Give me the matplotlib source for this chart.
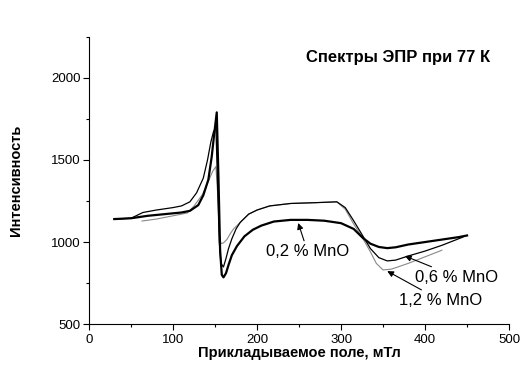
import matplotlib
matplotlib.use('Agg')
import matplotlib.pyplot as plt
from matplotlib.ticker import MultipleLocator

plt.rcParams['font.family'] = ['Liberation Sans', 'DejaVu Sans']

# 0,2 % MnO (thick line)
x_02 = [30, 50, 70, 90, 110, 120, 130, 136, 142, 146, 149, 152, 154, 156, 158, 160, 163, 166, 170, 176,
        185, 195, 205, 220, 240, 260, 280, 300, 315, 326, 335, 345, 355, 365, 380, 400, 420, 440, 450]
y_02 = [1140, 1145, 1160, 1170, 1180, 1190, 1225, 1285, 1380, 1520, 1660, 1790, 1400, 950, 800, 785, 810, 860, 920, 975,
        1035, 1075, 1100, 1125, 1135, 1135, 1130, 1115, 1080, 1025, 990, 970, 963, 968, 985, 1000, 1015, 1030, 1040]

# 0,6 % MnO (thin black)
x_06 = [30, 50, 64, 80, 100, 110, 120, 128, 136, 141, 145, 148, 151, 153, 155, 157, 160, 163, 166, 170, 175,
        180, 190, 200, 215, 240, 270, 295, 305, 315, 325, 335, 345, 355, 365, 380, 400, 420, 445]
y_06 = [1140, 1145, 1180, 1195, 1210, 1220, 1245, 1300, 1390, 1500, 1610, 1670, 1700, 1350, 1000, 870, 848, 900, 960, 1020, 1080,
        1120, 1170, 1195, 1220, 1235, 1240, 1245, 1210, 1130, 1045, 960, 905, 885, 890, 915, 945, 980, 1030]

# 1,2 % MnO (grey)
x_12 = [63, 80, 100, 117, 125, 135, 142, 147, 151, 153, 155, 157, 160, 164, 168, 172, 180, 190, 200, 215,
        240, 270, 295, 305, 315, 325, 335, 342, 350, 360, 380, 400, 420]
y_12 = [1128, 1140, 1160, 1177, 1220, 1290, 1370, 1430, 1460, 1300, 1050, 990, 995, 1015, 1050, 1080, 1120, 1170, 1195, 1220,
        1235, 1240, 1245, 1200, 1110, 1030, 940, 870, 830, 835, 870, 910, 950]

fig = plt.figure(figsize=(5.21, 3.65), dpi=100)
ax = fig.add_axes([0.171, 0.112, 0.806, 0.787])

ax.plot(x_12, y_12, color='#888888', linewidth=0.8)
ax.plot(x_06, y_06, color='black', linewidth=0.9)
ax.plot(x_02, y_02, color='black', linewidth=1.6)

ax.set_xlim(0, 500)
ax.set_ylim(500, 2250)
ax.xaxis.set_major_locator(MultipleLocator(100))
ax.xaxis.set_minor_locator(MultipleLocator(50))
ax.yaxis.set_major_locator(MultipleLocator(500))
ax.yaxis.set_minor_locator(MultipleLocator(250))
ax.spines['top'].set_visible(False)
ax.spines['right'].set_visible(False)
ax.tick_params(which='major', direction='out', length=4, width=0.8, labelsize=9.5)
ax.tick_params(axis='x', which='major', pad=3)
ax.tick_params(axis='y', which='major', pad=2)
ax.tick_params(which='minor', direction='out', length=2.5, width=0.8)

ax.set_xlabel('Прикладываемое поле, мТл', fontsize=10.5, fontweight='bold', labelpad=0)
ax.set_ylabel('Интенсивность', fontsize=10.5, fontweight='bold', labelpad=20)

ax.text(368, 2122, 'Спектры ЭПР при 77 К', fontsize=12, fontweight='bold', ha='center', va='center')

arrow = dict(arrowstyle='-|>', color='black', lw=0.8, mutation_scale=9, shrinkA=0, shrinkB=0)
ax.annotate('0,2 % MnO', xy=(249, 1116), xytext=(260, 945), fontsize=12, ha='center', va='center', arrowprops=arrow)
ax.annotate('0,6 % MnO', xy=(376, 915), xytext=(438, 787), fontsize=12, ha='center', va='center', arrowprops=arrow)
ax.annotate('1,2 % MnO', xy=(355, 823), xytext=(418, 646), fontsize=12, ha='center', va='center', arrowprops=arrow)

fig.savefig('out.png', dpi=100)
